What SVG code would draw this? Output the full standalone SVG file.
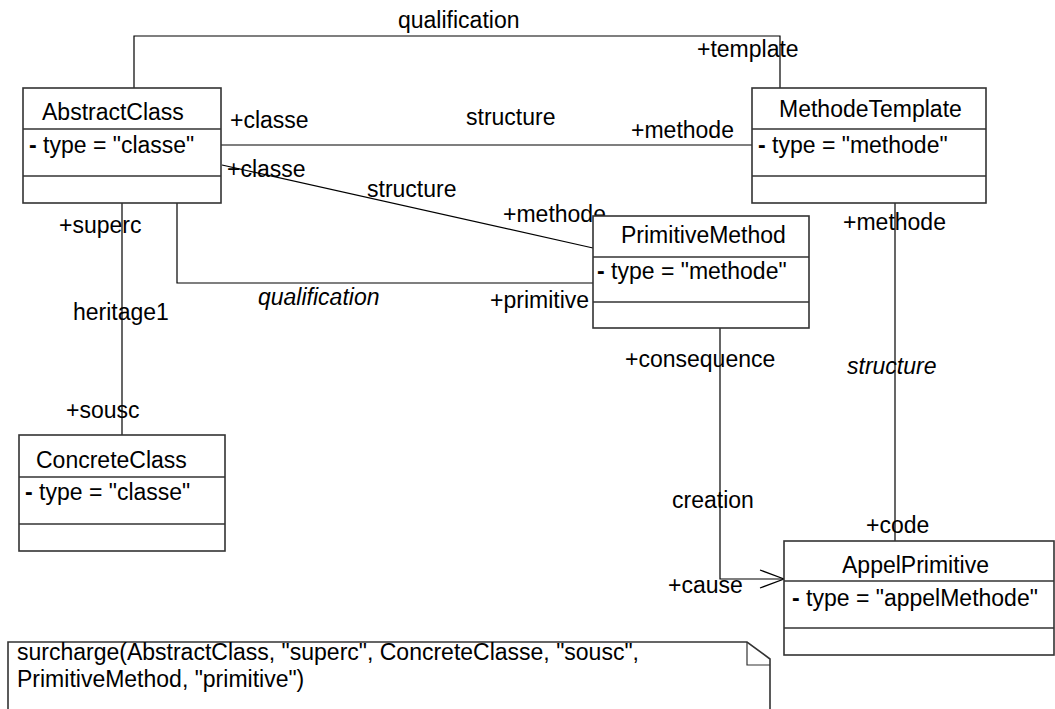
<svg xmlns="http://www.w3.org/2000/svg" width="1055" height="709" viewBox="0 0 1055 709">
<style>
text{font-family:"Liberation Sans",Arial,sans-serif;font-size:23px;fill:#000}
.it{font-style:italic}
.b{font-weight:bold}
.box{fill:#fff;stroke:#333;stroke-width:1.6}
.div{stroke:#333;stroke-width:1.4}
.ln{fill:none;stroke:#000;stroke-width:1.2}
.mid{text-anchor:middle}
</style>
<rect width="1055" height="709" fill="#fff"/>
<g id="connectors">
<polyline class="ln" points="134,88 134,36 780,36 780,88"/>
<line class="ln" x1="221" y1="145" x2="752" y2="145"/>
<line class="ln" x1="222" y1="165" x2="593" y2="248"/>
<polyline class="ln" points="177,203 177,283 593,283"/>
<line class="ln" x1="122" y1="203" x2="122" y2="435"/>
<line class="ln" x1="895" y1="203" x2="895" y2="541"/>
<polyline class="ln" points="720,328 720,579 784,579"/>
<polyline class="ln" points="760,570 784,579 760,588"/>
<text x="398" y="28">qualification</text>
<text x="697" y="57">+template</text>
<text x="230" y="128">+classe</text>
<text x="466" y="125">structure</text>
<text x="631" y="138">+methode</text>
<text x="227" y="177">+classe</text>
<text x="367" y="197">structure</text>
<text x="503" y="222">+methode</text>
<text class="it" x="258" y="305">qualification</text>
<text x="490" y="308">+primitive</text>
<text x="59" y="233">+superc</text>
<text x="73" y="320">heritage1</text>
<text x="66" y="418">+sousc</text>
<text x="843" y="230">+methode</text>
<text class="it" x="847" y="374">structure</text>
<text x="866" y="533">+code</text>
<text x="625" y="367">+consequence</text>
<text x="672" y="508">creation</text>
<text x="668" y="593">+cause</text>
</g>
<g id="AbstractClass">
<rect class="box" x="23" y="88" width="198" height="115"/>
<line class="div" x1="23" y1="129" x2="221" y2="129"/>
<line class="div" x1="23" y1="176" x2="221" y2="176"/>
<text x="42" y="120">AbstractClass</text>
<text x="29" y="153"><tspan class="b">-</tspan> type = "classe"</text>
</g>
<g id="MethodeTemplate">
<rect class="box" x="752" y="88" width="234" height="115"/>
<line class="div" x1="752" y1="129" x2="986" y2="129"/>
<line class="div" x1="752" y1="176" x2="986" y2="176"/>
<text x="779" y="117">MethodeTemplate</text>
<text x="758" y="153"><tspan class="b">-</tspan> type = "methode"</text>
</g>
<g id="PrimitiveMethod">
<rect class="box" x="593" y="216" width="216" height="112"/>
<line class="div" x1="593" y1="257" x2="809" y2="257"/>
<line class="div" x1="593" y1="302" x2="809" y2="302"/>
<text x="621" y="243">PrimitiveMethod</text>
<text x="597" y="279"><tspan class="b">-</tspan> type = "methode"</text>
</g>
<g id="ConcreteClass">
<rect class="box" x="19" y="435" width="206" height="116"/>
<line class="div" x1="19" y1="477" x2="225" y2="477"/>
<line class="div" x1="19" y1="524" x2="225" y2="524"/>
<text x="36" y="468">ConcreteClass</text>
<text x="25" y="500"><tspan class="b">-</tspan> type = "classe"</text>
</g>
<g id="AppelPrimitive">
<rect class="box" x="784" y="541" width="270" height="114"/>
<line class="div" x1="784" y1="581" x2="1054" y2="581"/>
<line class="div" x1="784" y1="628" x2="1054" y2="628"/>
<text x="842" y="573">AppelPrimitive</text>
<text x="792" y="606"><tspan class="b">-</tspan> type = "appelMethode"</text>
</g>
<g id="note">
<path class="box" d="M8,720 L8,642 L747,642 L770,659 L770,720"/>
<polyline class="ln" points="747,642 747,665 770,665" style="stroke:#333"/>
<text x="17" y="660">surcharge(AbstractClass, "superc", ConcreteClasse, "sousc",</text>
<text x="17" y="687">PrimitiveMethod, "primitive")</text>
</g>
</svg>
